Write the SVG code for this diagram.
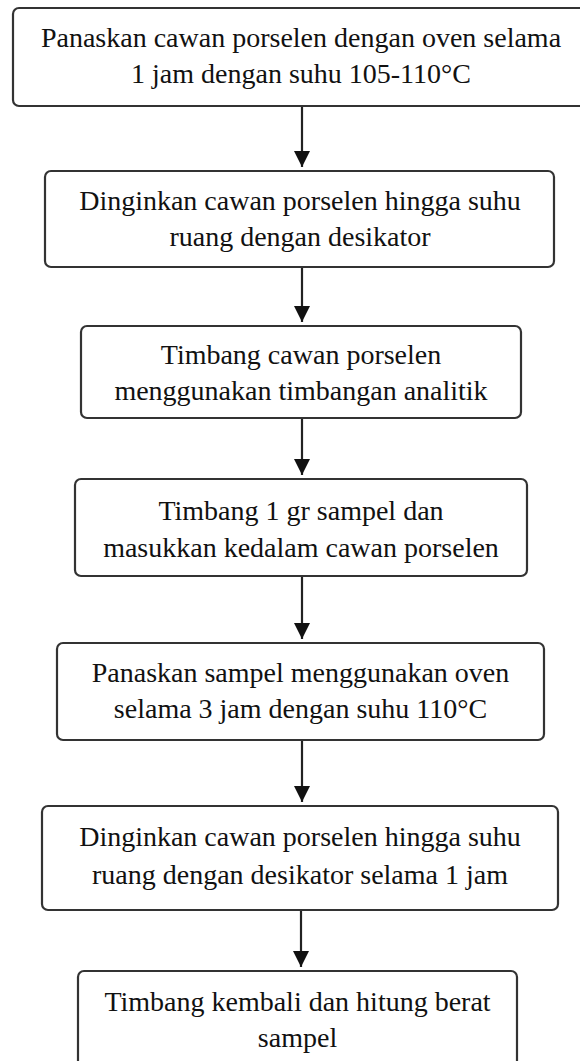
<svg xmlns="http://www.w3.org/2000/svg" width="580" height="1061" viewBox="0 0 580 1061">
<style>
.box{fill:#fff;stroke:#333;stroke-width:2.2}
.t{font-size:28px;fill:#111;text-anchor:middle}
.c{stroke:#222;stroke-width:2.2;fill:none;marker-end:url(#ah)}
</style>
<defs>
<marker id="ah" markerUnits="userSpaceOnUse" markerWidth="16" markerHeight="16" refX="16" refY="8" orient="auto">
<path d="M0,0 L16,8 L0,16 z" fill="#111"/>
</marker>
</defs>
<rect width="580" height="1061" fill="#fff"/>
<g id="connectors">
<line class="c" x1="302" y1="106" x2="302" y2="167"/>
<line class="c" x1="302" y1="267" x2="302" y2="322"/>
<line class="c" x1="302" y1="418" x2="302" y2="475"/>
<line class="c" x1="302" y1="576" x2="302" y2="639"/>
<line class="c" x1="302" y1="740" x2="302" y2="802"/>
<line class="c" x1="301" y1="910" x2="301" y2="967"/>
</g>
<g font-family="Liberation Serif, Times New Roman, DejaVu Serif, serif">
<g id="n1">
<rect class="box" x="13" y="8" width="580" height="98" rx="6"/>
<text class="t" x="301" y="47">Panaskan cawan porselen dengan oven selama</text>
<text class="t" x="301" y="83">1 jam dengan suhu 105-110°C</text>
</g>
<g id="n2">
<rect class="box" x="45" y="171" width="509" height="96" rx="6"/>
<text class="t" x="300" y="210">Dinginkan cawan porselen hingga suhu</text>
<text class="t" x="300" y="246">ruang dengan desikator</text>
</g>
<g id="n3">
<rect class="box" x="81" y="326" width="440" height="92" rx="6"/>
<text class="t" x="301" y="364">Timbang cawan porselen</text>
<text class="t" x="301" y="400">menggunakan timbangan analitik</text>
</g>
<g id="n4">
<rect class="box" x="75" y="479" width="452" height="97" rx="6"/>
<text class="t" x="301" y="520">Timbang 1 gr sampel dan</text>
<text class="t" x="301" y="557">masukkan kedalam cawan porselen</text>
</g>
<g id="n5">
<rect class="box" x="57" y="643" width="487" height="97" rx="6"/>
<text class="t" x="300.5" y="682">Panaskan sampel menggunakan oven</text>
<text class="t" x="300.5" y="718">selama 3 jam dengan suhu 110°C</text>
</g>
<g id="n6">
<rect class="box" x="42" y="806" width="516" height="104" rx="6"/>
<text class="t" x="300" y="846">Dinginkan cawan porselen hingga suhu</text>
<text class="t" x="300" y="884">ruang dengan desikator selama 1 jam</text>
</g>
<g id="n7">
<rect class="box" x="78" y="971" width="439" height="110" rx="6"/>
<text class="t" x="297.5" y="1011">Timbang kembali dan hitung berat</text>
<text class="t" x="297.5" y="1047">sampel</text>
</g>
</g>
</svg>
